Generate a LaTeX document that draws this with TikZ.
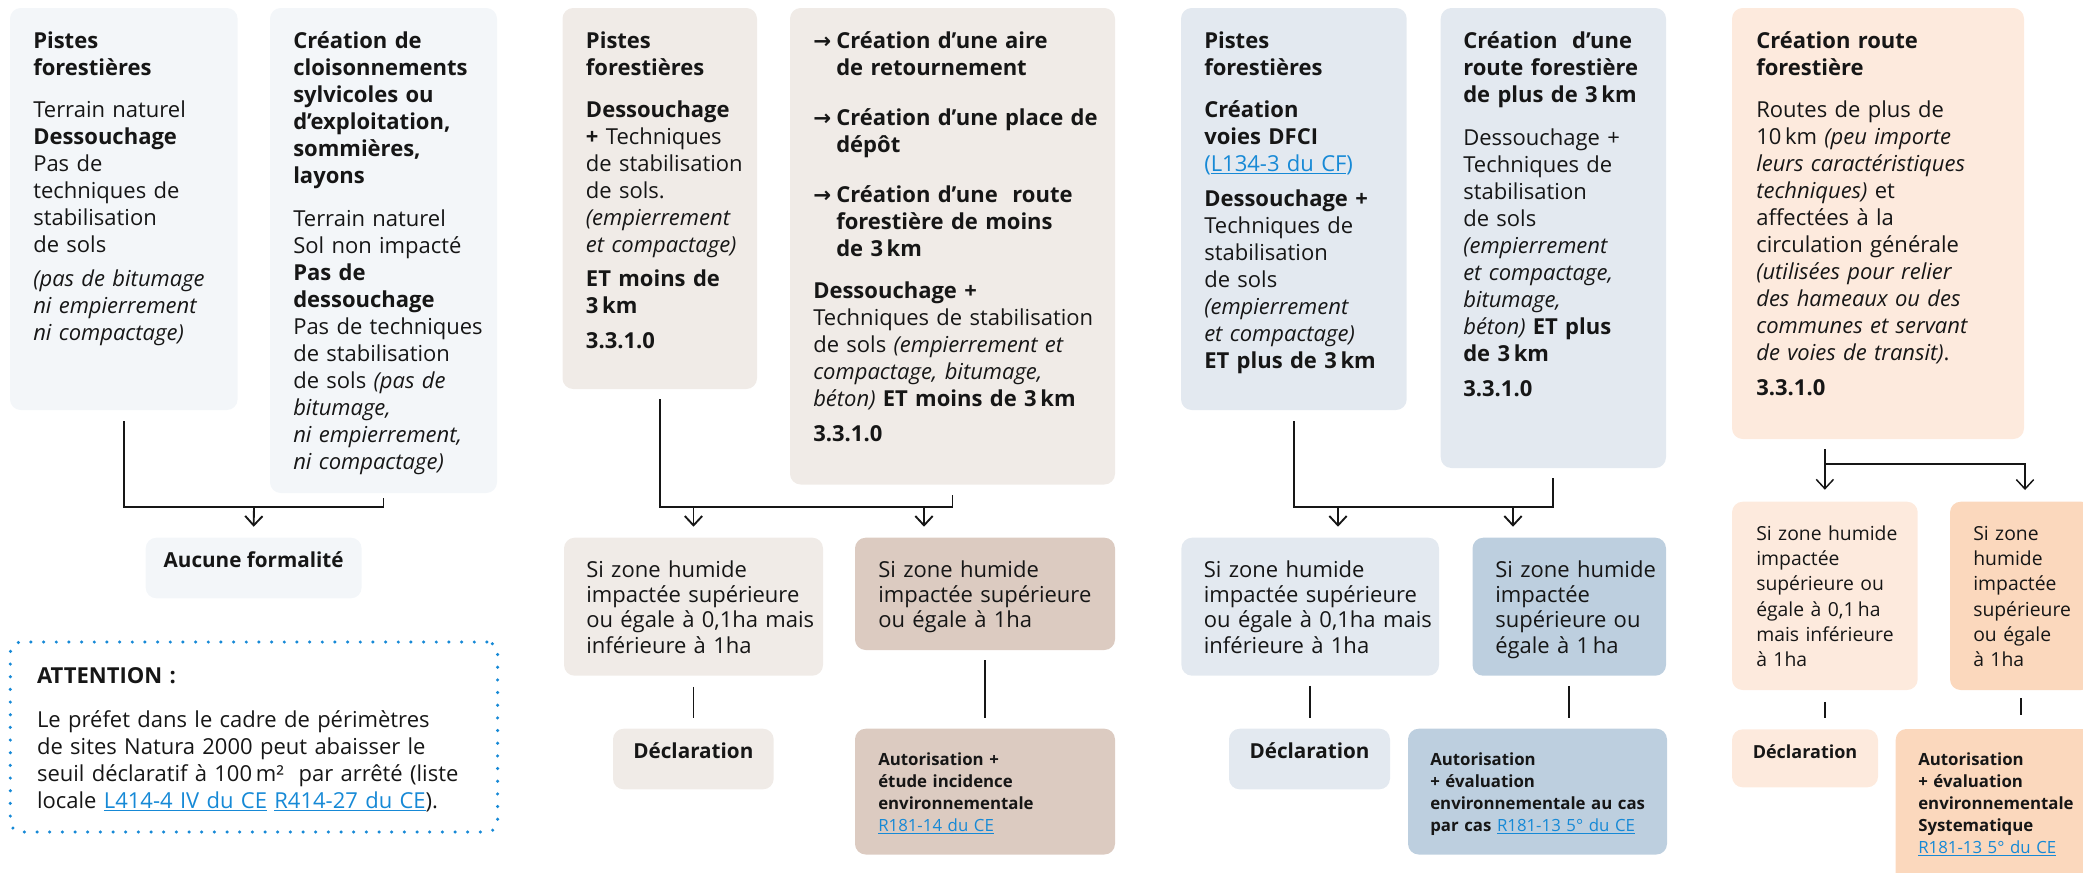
\documentclass[tikz,border=0pt]{standalone}
\usepackage{fontspec}
\setmainfont{Open Sans}
\newfontfamily\fleche{DejaVu Sans}
\usetikzlibrary{fit,calc,arrows.meta}

\definecolor{gris1}{RGB}{243,246,249}
\definecolor{beige1}{RGB}{240,235,231}
\definecolor{beige2}{RGB}{220,203,193}
\definecolor{bleu1}{RGB}{227,233,240}
\definecolor{bleu2}{RGB}{189,207,223}
\definecolor{peche1}{RGB}{253,234,221}
\definecolor{peche2}{RGB}{251,216,189}
\definecolor{lien}{RGB}{22,137,214}
\definecolor{encre}{RGB}{22,22,22}

\newcommand\fbody{\fontsize{16.5}{20.25}\selectfont}
\newcommand\fzone{\fontsize{16.5}{19}\selectfont}
\newcommand\fzonep{\fontsize{14.5}{19}\selectfont}
\newcommand\fdecl{\fontsize{15.5}{18}\selectfont}
\newcommand\fdeclp{\fontsize{13.5}{16}\selectfont}
\newcommand\fauto{\fontsize{12.6}{16.5}\selectfont}
\newcommand\lien[1]{\textcolor{lien}{\underline{#1}}}
\newcommand\fl{\makebox[17.25pt][l]{{\fleche\bfseries\fontsize{16}{16}\selectfont →}}}
\newcommand\ind{\hspace*{17.25pt}}

\tikzset{
  box/.style={rounded corners=8pt, inner sep=0pt, draw=none, fill=#1},
  txt/.style={anchor=base west, inner sep=0pt, align=left, text width=330pt, text=encre},
  ln/.style={line width=1.4pt, draw=encre},
  arr/.style={ln, -{Straight Barb[length=7pt,width=13pt]}},
}

\begin{document}
\begin{tikzpicture}[x=0.75pt,y=0.75pt,yscale=-1,xscale=1]
\useasboundingbox (0,0) rectangle (2083,872);

%Shape: Rectangle -- colonne 1
\node[box=gris1, fit={(10,8) (237.6,410)}] (pf1) {};
\node[box=gris1, fit={(270,8) (497,493)}] (cl1) {};
\node[box=gris1, fit={(145.7,537.7) (361.6,598.3)}, font=\fdecl\bfseries, text=encre] (af) {Aucune formalité};
\node[draw=lien, dash pattern=on 0pt off 9.5pt, line cap=round, line width=2.6pt, rounded corners=8pt, inner sep=0pt, fit={(10.3,642) (497.6,832)}] (att) {};

% Text Node
\node[txt, font=\fbody] (pf1t) at (33,48) {\textbf{Pistes}\\ \textbf{forestières}\\[11.25pt] Terrain naturel\\ \textbf{Dessouchage}\\ Pas de\\ techniques de\\ stabilisation\\ de sols\\[5.25pt] \textit{(pas de bitumage}\\ \textit{ni empierrement}\\ \textit{ni compactage)}};
% Text Node
\node[txt, font=\fbody] (cl1t) at (293,48) {\textbf{Création de}\\ \textbf{cloisonnements}\\ \textbf{sylvicoles ou}\\ \textbf{d’exploitation,}\\ \textbf{sommières,}\\ \textbf{layons}\\[12pt] Terrain naturel\\ Sol non impacté\\ \textbf{Pas de}\\ \textbf{dessouchage}\\ Pas de techniques\\ de stabilisation\\ de sols \textit{(pas de}\\ \textit{bitumage,}\\ \textit{ni empierrement,}\\ \textit{ni compactage)}};
% Text Node
\node[txt, font=\fbody] (attt) at (36.8,683) {\textbf{ATTENTION :}\\[12.75pt] Le préfet dans le cadre de périmètres\\ de sites Natura 2000 peut abaisser le\\ seuil déclaratif à 100\,m² \ par arrêté (liste\\ locale \lien{L414-4 IV du CE} \lien{R414-27 du CE}).};

%Straight Lines
\coordinate (j1) at (254,507);
\draw[ln] ($(pf1.south)+(0,11)$) |- (j1) -| ($(cl1.south)+(0,5)$);
\draw[arr] (j1) -- ($(af.north)+(0,-10.7)$);

%Shape: Rectangle -- colonne 2
\node[box=beige1, fit={(562.5,8) (757,389)}] (pf2) {};
\node[box=beige1, fit={(790,8) (1115,484.5)}] (ar2) {};
\node[box=beige1, fit={(564,537.7) (823,675.7)}] (zh2a) {};
\node[box=beige2, fit={(855,537.7) (1115,650)}] (zh2b) {};
\node[box=beige1, fit={(613,728.7) (773.7,789.3)}, font=\fdecl\bfseries, text=encre] (dc2) {Déclaration};
\node[box=beige2, fit={(855,728.7) (1115,854.5)}] (au2) {};

% Text Node
\node[txt, font=\fbody] (pf2t) at (585.7,48) {\textbf{Pistes}\\ \textbf{forestières}\\[11.25pt] \textbf{Dessouchage}\\ \textbf{+} Techniques\\ de stabilisation\\ de sols.\\ \textit{(empierrement}\\ \textit{et compactage)}\\[5.25pt] \textbf{ET moins de}\\ \textbf{3\,km}\\[6pt] \textbf{3.3.1.0}};
% Text Node
\node[txt, font=\fbody] (ar2t) at (813,48) {\fl\textbf{Création d’une aire}\\ \ind\textbf{de retournement}\\[17.25pt] \fl\textbf{Création d’une place de}\\ \ind\textbf{dépôt}\\[17.25pt] \fl\textbf{Création d’une\ \ route}\\ \ind\textbf{forestière de moins}\\ \ind\textbf{de 3\,km}\\[11.25pt] \textbf{Dessouchage +}\\ Techniques de stabilisation\\ de sols \textit{(empierrement et}\\ \textit{compactage, bitumage,}\\ \textit{béton)} \textbf{ET moins de 3\,km}\\[6pt] \textbf{3.3.1.0}};
% Text Node
\node[txt, font=\fzone] (zh2at) at (586,577) {Si zone humide\\ impactée supérieure\\ ou égale à 0,1ha mais\\ inférieure à 1ha};
% Text Node
\node[txt, font=\fzone] (zh2bt) at (878,577) {Si zone humide\\ impactée supérieure\\ ou égale à 1ha};
% Text Node
\node[txt, font=\fauto] (au2t) at (878,765) {\textbf{Autorisation +}\\ \textbf{étude incidence}\\ \textbf{environnementale}\\ \lien{R181-14 du CE}};

%Straight Lines
\coordinate (j2) at (924,507);
\draw[ln] ($(pf2.south)+(0,10)$) |- (j2) -| ($(ar2.south)+(0,10.5)$);
\draw[arr] (zh2a.north |- j2) -- ($(zh2a.north)+(0,-10.7)$);
\draw[arr] (j2) -- ($(j2 |- zh2b.north)+(0,-10.7)$);
\draw[ln] ($(zh2a.south)+(0,11)$) -- ($(zh2a.south |- dc2.north)+(0,-10)$);
\draw[ln] ($(zh2b.south)+(0,10)$) -- ($(zh2b.south |- au2.north)+(0,-10)$);

%Shape: Rectangle -- colonne 3
\node[box=bleu1, fit={(1181,8) (1406.7,410)}] (pf3) {};
\node[box=bleu1, fit={(1440.7,8) (1666,468)}] (rt3) {};
\node[box=bleu1, fit={(1181.4,537.7) (1439,675.7)}] (zh3a) {};
\node[box=bleu2, fit={(1472.5,537.7) (1666,675.7)}] (zh3b) {};
\node[box=bleu1, fit={(1229,728.7) (1390,789.3)}, font=\fdecl\bfseries, text=encre] (dc3) {Déclaration};
\node[box=bleu2, fit={(1408,728.7) (1667,854.5)}] (au3) {};

% Text Node
\node[txt, font=\fbody] (pf3t) at (1204,48) {\textbf{Pistes}\\ \textbf{forestières}\\[11.25pt] \textbf{Création}\\ \textbf{voies DFCI}\\ \textcolor{lien}{(\underline{L134-3 du CF})}\\[6pt] \textbf{Dessouchage +}\\ Techniques de\\ stabilisation\\ de sols\\ \textit{(empierrement}\\ \textit{et compactage)}\\ \textbf{ET plus de 3\,km}};
% Text Node
\node[txt, font=\fbody] (rt3t) at (1463,48) {\textbf{Création\ \ d’une}\\ \textbf{route forestière}\\ \textbf{de plus de 3\,km}\\[12pt] Dessouchage +\\ Techniques de\\ stabilisation\\ de sols\\ \textit{(empierrement}\\ \textit{et compactage,}\\ \textit{bitumage,}\\ \textit{béton)} \textbf{ET plus}\\ \textbf{de 3\,km}\\[6pt] \textbf{3.3.1.0}};
% Text Node
\node[txt, font=\fzone] (zh3at) at (1203.6,577) {Si zone humide\\ impactée supérieure\\ ou égale à 0,1ha mais\\ inférieure à 1ha};
% Text Node
\node[txt, font=\fzone] (zh3bt) at (1495,577) {Si zone humide\\ impactée\\ supérieure ou\\ égale à 1\,ha};
% Text Node
\node[txt, font=\fauto] (au3t) at (1430,765) {\textbf{Autorisation}\\ \textbf{+ évaluation}\\ \textbf{environnementale au cas}\\ \textbf{par cas} \lien{R181-13 5° du CE}};

%Straight Lines
\coordinate (j3a) at (1338,507);
\coordinate (j3) at (1513,507);
\draw[ln] ($(pf3.south)+(0,11)$) |- (j3) -| ($(rt3.south)+(0,10)$);
\draw[arr] (j3a) -- ($(j3a |- zh3a.north)+(0,-10.7)$);
\draw[arr] (j3) -- ($(j3 |- zh3b.north)+(0,-10.7)$);
\draw[ln] ($(zh3a.south)+(0,10)$) -- ($(zh3a.south |- dc3.north)+(0,-10)$);
\draw[ln] ($(zh3b.south)+(0,10)$) -- ($(zh3b.south |- au3.north)+(0,-10)$);

%Shape: Rectangle -- colonne 4
\node[box=peche1, fit={(1732,8) (2024,439)}] (rf4) {};
\node[box=peche1, fit={(1732,501.7) (1917.7,690)}] (zh4a) {};
\node[box=peche2, fit={(1950,501.7) (2092,690)}] (zh4b) {};
\node[box=peche1, fit={(1732,729.3) (1878,787.3)}, font=\fdeclp\bfseries, text=encre] (dc4) {Déclaration};
\node[box=peche2, fit={(1895.7,729) (2100,885)}] (au4) {};

% Text Node
\node[txt, font=\fbody] (rf4t) at (1756,48) {\textbf{Création route}\\ \textbf{forestière}\\[11.25pt] Routes de plus de\\ 10\,km \textit{(peu importe}\\ \textit{leurs caractéristiques}\\ \textit{techniques)} et\\ affectées à la\\ circulation générale\\ \textit{(utilisées pour relier}\\ \textit{des hameaux ou des}\\ \textit{communes et servant}\\ \textit{de voies de transit)}.\\[6pt] \textbf{3.3.1.0}};
% Text Node
\node[txt, font=\fzonep] (zh4at) at (1756,540) {Si zone humide\\ impactée\\ supérieure ou\\ égale à 0,1\,ha\\ mais inférieure\\ à 1ha};
% Text Node
\node[txt, font=\fzonep] (zh4bt) at (1973,540) {Si zone\\ humide\\ impactée\\ supérieure\\ ou égale\\ à 1ha};
% Text Node
\node[txt, font=\fauto] (au4t) at (1918,765) {\textbf{Autorisation}\\ \textbf{+ évaluation}\\ \textbf{environnementale}\\ \textbf{Systematique}\\ \lien{R181-13 5° du CE}};

%Straight Lines
\coordinate (j4) at (1824,464);
\coordinate (k4) at (2025,490);
\draw[arr, line width=1.1pt] ($(zh4a.north |- rf4.south)+(0,10)$) -- ($(zh4a.north)+(0,-11.7)$);
\draw[arr, line width=1.1pt] (j4) -| (k4);
\draw[ln, line width=1.1pt] ($(zh4a.south)+(0,11.7)$) -- ($(zh4a.south |- dc4.north)+(0,-11)$);
\draw[ln, line width=1.1pt] ($(zh4b.south)+(0,8)$) -- ($(zh4b.south |- au4.north)+(0,-14)$);

\end{tikzpicture}
\end{document}
